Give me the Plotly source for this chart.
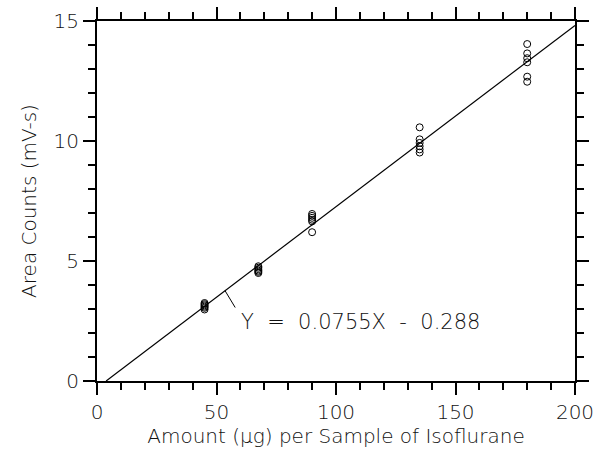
import plotly.graph_objects as go

# Data: amount (ug) vs area counts (mV-s)
amount_45 = [45] * 6
area_45 = [2.98, 3.05, 3.10, 3.15, 3.20, 3.25]
amount_675 = [67.5] * 6
area_675 = [4.50, 4.55, 4.60, 4.66, 4.72, 4.78]
amount_90 = [90] * 6
area_90 = [6.20, 6.65, 6.72, 6.80, 6.88, 6.96]
amount_135 = [135] * 6
area_135 = [9.52, 9.65, 9.78, 9.92, 10.07, 10.57]
amount_180 = [180] * 6
area_180 = [12.47, 12.68, 13.28, 13.45, 13.65, 14.04]

slope = 0.0755
intercept = -0.288

x_all = amount_45 + amount_675 + amount_90 + amount_135 + amount_180
y_all = area_45 + area_675 + area_90 + area_135 + area_180

x0 = -intercept / slope
fit_x = [x0, 200]
fit_y = [slope * v + intercept for v in fit_x]

FONT = "DejaVu Sans"
TXT = dict(family=FONT, size=20, color="#111", weight=200)
fig = go.Figure()
fig.add_trace(go.Scatter(x=fit_x, y=fit_y, mode="lines",
                         line=dict(color="black", width=1.2), showlegend=False))
fig.add_trace(go.Scatter(x=x_all, y=y_all, mode="markers",
                         marker=dict(symbol="circle-open", size=7, color="black", line=dict(width=1)),
                         showlegend=False))

# leader line and equation text
lead_x = 53.6
fig.add_annotation(x=lead_x, y=slope * lead_x + intercept, ax=58.2, ay=3.0, axref="x", ayref="y",
                   text="", showarrow=True, arrowhead=0, arrowwidth=1, arrowcolor="black")
fig.add_annotation(x=59.6, y=2.46, xref="x", yref="y", text="Y  =  0.0755X  -  0.288",
                   showarrow=False, xanchor="left", yanchor="middle",
                   font=dict(family=FONT, size=21, color="#111", weight=200))

axis_common = dict(showgrid=False, zeroline=False, showline=True, linecolor="black", linewidth=2,
                   mirror="ticks", ticks="outside", ticklen=12, tickwidth=1.5, tickcolor="black",
                   tickfont=TXT, automargin=False)
fig.update_xaxes(range=[0, 200], tickvals=[0, 50, 100, 150, 200],
                 minor=dict(dtick=10, tick0=0, ticks="outside", ticklen=7, tickwidth=1.5, tickcolor="black"),
                 title=dict(text="Amount (µg) per Sample of Isoflurane", font=TXT, standoff=2),
                 **axis_common)
fig.update_yaxes(range=[0, 15], tickvals=[0, 5, 10, 15],
                 minor=dict(dtick=1, tick0=0, ticks="outside", ticklen=7, tickwidth=1.5, tickcolor="black"),
                 title=dict(text="Area Counts (mV-s)", font=TXT, standoff=12),
                 **axis_common)
fig.update_layout(width=597, height=462, margin=dict(l=97, r=22, t=21, b=81),
                  plot_bgcolor="white", paper_bgcolor="white")
fig.write_html("out.html")
